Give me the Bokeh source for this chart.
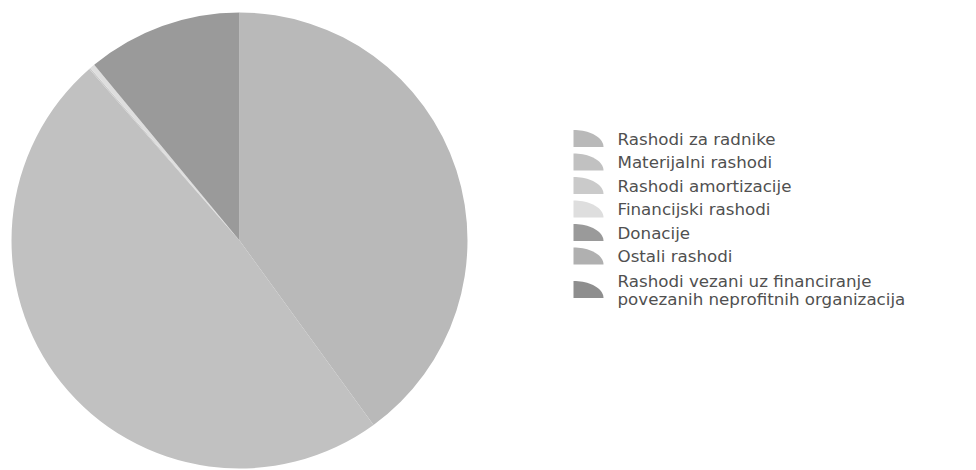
import math
from bokeh.plotting import figure
from bokeh.models import Range1d, ColumnDataSource
from bokeh.core.properties import value
from bokeh.embed import file_html
from bokeh.resources import INLINE

# ---- data ----
categories = [
    "Rashodi za radnike",
    "Materijalni rashodi",
    "Rashodi amortizacije",
    "Financijski rashodi",
    "Donacije",
    "Ostali rashodi",
    "Rashodi vezani uz financiranje\npovezanih neprofitnih organizacija",
]
shares = [40.0, 48.55, 0.1, 0.35, 11.0, 0.0, 0.0]
colors = ["#b9b9b9", "#c1c1c1", "#cacaca", "#dedede", "#9a9a9a", "#b0b0b0", "#8e8e8e"]

# ---- layout (screen pixel coords, y measured from top) ----
W, H = 976, 470


def Y(y_img):
    return H - y_img


p = figure(width=W, height=H, output_backend="svg", toolbar_location=None,
           x_range=Range1d(0, W), y_range=Range1d(0, H),
           min_border=0, outline_line_color=None)
p.axis.visible = False
p.grid.visible = False
p.background_fill_color = "white"
p.border_fill_color = "white"

# pie
cx, cy, r = 239.0, Y(240.0), 228.0
total = sum(shares)
starts, ends, wcols = [], [], []
cum = 0.0
for s, c in zip(shares, colors):
    a0 = math.pi / 2 - 2 * math.pi * cum / total
    cum += s
    a1 = math.pi / 2 - 2 * math.pi * cum / total
    if s > 0:
        starts.append(a0)
        ends.append(a1)
        wcols.append(c)

src = ColumnDataSource(dict(start=starts, end=ends, color=wcols))
p.wedge(x=cx, y=cy, radius=r, start_angle="start", end_angle="end",
        direction="clock", fill_color="color", line_color=None, source=src)

# legend
lx, sw_w, sw_h = 573, 30, 17
row_y = [138, 161.5, 185, 208.5, 232, 255.5, 289]
tx = 617
xs_list, ys_list = [], []
for i, yc in enumerate(row_y):
    x0 = lx
    yb = yc + sw_h / 2
    pts_x = [x0]
    pts_y = [Y(yb)]
    n = 20
    for k in range(n + 1):
        t = math.pi / 2 * k / n
        pts_x.append(x0 + sw_w * math.sin(t))
        pts_y.append(Y(yb - sw_h * math.cos(t)))
    xs_list.append(pts_x)
    ys_list.append(pts_y)
p.patches(xs=xs_list, ys=ys_list, fill_color=colors, line_color=None)

text_x, text_y, text_s = [], [], []
for i, lab in enumerate(categories):
    lines = lab.split("\n")
    if len(lines) == 1:
        text_x.append(tx)
        text_y.append(Y(row_y[i]))
        text_s.append(lines[0])
    else:
        text_x += [tx, tx]
        text_y += [Y(row_y[i] - 9), Y(row_y[i] + 9)]
        text_s += lines
p.text(x=text_x, y=text_y, text=text_s, text_font=value("DejaVu Sans"),
       text_font_size="16.7px", text_color="#505050", text_baseline="middle",
       text_align="left")

open("out.html", "w").write(file_html(p, INLINE))
